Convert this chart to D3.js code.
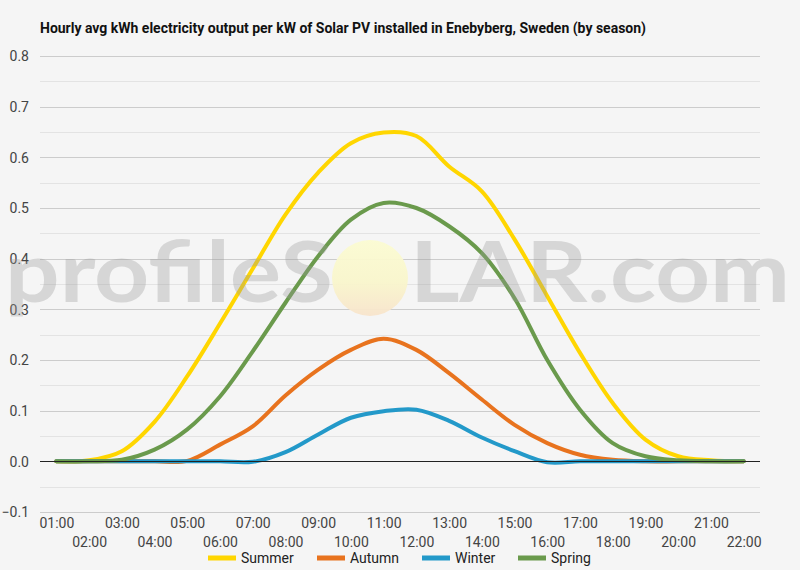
<!DOCTYPE html>
<html lang="en">
<head>
<meta charset="utf-8">
<title>Hourly avg kWh electricity output per kW of Solar PV - Enebyberg</title>
<script src="https://d3js.org/d3.v7.min.js"></script>
<style>
  html, body { margin: 0; padding: 0; background: #f5f5f5; }
  body { font-family: Roboto, "Noto Sans", sans-serif; }
  svg { display: block; background: #f5f5f5; }
  .tick text { fill: #444; font-size: 14px; font-family: Roboto, sans-serif; }
  .legend text { fill: #222; font-size: 14px; }
</style>
</head>
<body>
<script>
// hours shown on the x axis
var hours = ["01:00","02:00","03:00","04:00","05:00","06:00","07:00","08:00","09:00","10:00","11:00",
             "12:00","13:00","14:00","15:00","16:00","17:00","18:00","19:00","20:00","21:00","22:00"];

// series (kWh per kW)
var summer = [0.000, 0.002, 0.020, 0.078, 0.168, 0.272, 0.380, 0.487, 0.570, 0.628, 0.649,
              0.642, 0.582, 0.533, 0.438, 0.326, 0.214, 0.115, 0.043, 0.010, 0.002, 0.000];
var autumn = [0.000, 0.000, 0.000, 0.000, 0.001, 0.033, 0.069, 0.130, 0.181, 0.220, 0.242,
              0.220, 0.174, 0.122, 0.072, 0.036, 0.013, 0.003, 0.000, 0.000, 0.000, 0.000];
var winter = [0.000, 0.000, 0.000, 0.000, 0.000, 0.000, -0.001, 0.018, 0.053, 0.086, 0.099,
              0.102, 0.080, 0.047, 0.020, -0.002, 0.000, 0.000, 0.000, 0.000, 0.000, 0.000];
var spring = [0.000, 0.000, 0.003, 0.023, 0.063, 0.128, 0.217, 0.313, 0.405, 0.477, 0.510,
              0.500, 0.464, 0.411, 0.322, 0.200, 0.102, 0.036, 0.010, 0.002, 0.000, 0.000];

var seriesNames = ["Summer", "Autumn", "Winter", "Spring"];
var seriesColors = ["#ffd600", "#e8731e", "#2399c9", "#6a9a4c"];

var yTicks = [-0.1, 0, 0.1, 0.2, 0.3, 0.4, 0.5, 0.6, 0.7, 0.8];

var width = 800, height = 570;
var margin = {top: 56, right: 40, bottom: 58, left: 40};

var svg = d3.select("body").append("svg")
  .attr("width", width).attr("height", height);

var x = d3.scalePoint().domain(hours).range([margin.left, width - margin.right]).padding(0.5);
var y = d3.scaleLinear().domain([-0.1, 0.8]).range([height - margin.bottom, margin.top]);

// title
svg.append("text")
  .attr("x", 40).attr("y", 33)
  .attr("textLength", 606).attr("lengthAdjust", "spacingAndGlyphs")
  .style("font-size", "14px").style("font-weight", "bold").style("fill", "#111")
  .text("Hourly avg kWh electricity output per kW of Solar PV installed in Enebyberg, Sweden (by season)");

// gridlines (minor every 0.05, major every 0.1)
var minor = d3.range(-0.05, 0.8, 0.1);
svg.append("g").selectAll("line").data(minor).enter().append("line")
  .attr("x1", margin.left).attr("x2", width - margin.right)
  .attr("y1", function(d){ return Math.round(y(d)) + 0.5; })
  .attr("y2", function(d){ return Math.round(y(d)) + 0.5; })
  .attr("stroke", "#e3e3e3").attr("stroke-width", 1);
svg.append("g").selectAll("line").data(yTicks.filter(function(d){ return d !== 0; })).enter().append("line")
  .attr("x1", margin.left).attr("x2", width - margin.right)
  .attr("y1", function(d){ return Math.round(y(d)) + 0.5; })
  .attr("y2", function(d){ return Math.round(y(d)) + 0.5; })
  .attr("stroke", "#cccccc").attr("stroke-width", 1);

// y axis labels
var yAxis = svg.append("g")
  .attr("transform", "translate(" + (margin.left - 8) + ",0)")
  .call(d3.axisLeft(y).tickValues(yTicks).tickSize(0).tickFormat(d3.format(".1f")));
yAxis.select(".domain").remove();
yAxis.selectAll(".tick text").attr("dy", "0.35em");

// x axis labels, staggered on two rows
var xAxis = svg.append("g")
  .attr("transform", "translate(0," + (height - margin.bottom) + ")")
  .call(d3.axisBottom(x).tickSize(0));
xAxis.select(".domain").remove();
xAxis.selectAll(".tick text")
  .attr("y", function(d, i){ return i % 2 === 0 ? 16 : 35; })
  .attr("dy", 0);

// lines
var data = [summer, autumn, winter, spring];
var line = d3.line()
  .x(function(d, i){ return x(hours[i]); })
  .y(function(d){ return y(d); })
  .curve(d3.curveCatmullRom.alpha(0.5));

svg.append("g").selectAll("path").data(data).enter().append("path")
  .attr("d", line)
  .attr("fill", "none")
  .attr("stroke", function(d, i){ return seriesColors[i]; })
  .attr("stroke-width", 4)
  .attr("stroke-linejoin", "round")
  .attr("stroke-linecap", "round");

// zero line over the series
svg.append("line")
  .attr("x1", margin.left).attr("x2", width - margin.right)
  .attr("y1", Math.round(y(0)) + 0.5).attr("y2", Math.round(y(0)) + 0.5)
  .attr("stroke", "#222").attr("stroke-width", 1);

// watermark
var defs = svg.append("defs");
var grad = defs.append("linearGradient").attr("id", "sun").attr("x1", 0).attr("y1", 0).attr("x2", 0).attr("y2", 1);
grad.append("stop").attr("offset", "0%").attr("stop-color", "#fbfbd2");
grad.append("stop").attr("offset", "55%").attr("stop-color", "#f9f6cc");
grad.append("stop").attr("offset", "100%").attr("stop-color", "#f8e4cc");

var wm = svg.append("g").style("pointer-events", "none");
wm.append("ellipse")
  .attr("cx", 370).attr("cy", 278).attr("rx", 38).attr("ry", 38)
  .attr("fill", "url(#sun)").attr("opacity", 0.95);
wm.selectAll("text").data([["profileS", 5, 328], ["LAR.com", 410, 380]]).enter().append("text")
  .attr("x", function(d){ return d[1]; }).attr("y", 302)
  .attr("textLength", function(d){ return d[2]; }).attr("lengthAdjust", "spacingAndGlyphs")
  .style("font-family", "Lato, 'Open Sans', sans-serif").style("font-size", "84px")
  .style("font-weight", "bold")
  .style("fill", "#9a9a9a").style("opacity", 0.33)
  .text(function(d){ return d[0]; });

// legend
var legendX = [208, 317, 422, 518];
var legend = svg.append("g").attr("class", "legend");
var item = legend.selectAll("g").data(seriesNames).enter().append("g")
  .attr("transform", function(d, i){ return "translate(" + legendX[i] + ",558)"; });
item.append("rect")
  .attr("x", 0).attr("y", -2.5).attr("width", 28).attr("height", 5)
  .attr("fill", function(d, i){ return seriesColors[i]; });
item.append("text")
  .attr("x", 33).attr("y", 0).attr("dy", "0.35em")
  .text(function(d){ return d; });
</script>
</body>
</html>
